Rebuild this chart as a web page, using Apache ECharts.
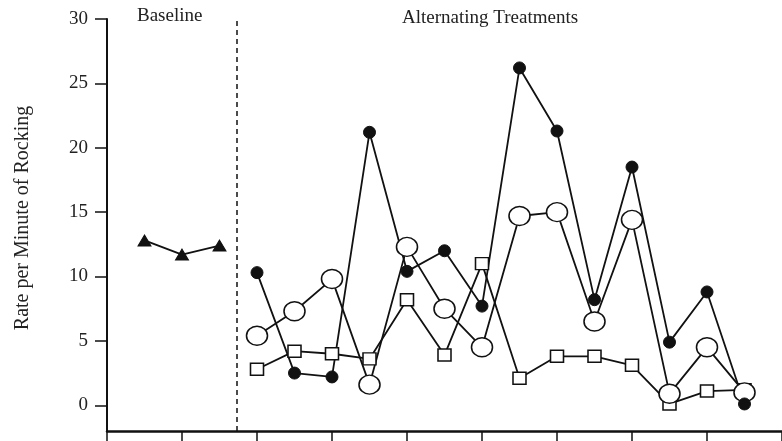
<!DOCTYPE html>
<html>
<head>
<meta charset="utf-8">
<script src="https://cdn.jsdelivr.net/npm/echarts@6/dist/echarts.min.js"></script>
<style>html,body{margin:0;padding:0;background:#fff;}#c{width:782px;height:441px;}</style>
</head>
<body>
<div id="c"></div>
<script>
var baselineSessions = [1, 2, 3];
var baselineValues = [12.8, 11.7, 12.4];
var treatmentSessions = [4, 5, 6, 7, 8, 9, 10, 11, 12, 13, 14, 15, 16, 17];
var filledCircleValues = [10.3, 2.5, 2.2, 21.2, 10.4, 12.0, 7.7, 26.2, 21.3, 8.2, 18.5, 4.9, 8.8, 0.1];
var openCircleValues = [5.4, 7.3, 9.8, 1.6, 12.3, 7.5, 4.5, 14.7, 15.0, 6.5, 14.4, 0.9, 4.5, 1.0];
var squareValues = [2.8, 4.2, 4.0, 3.6, 8.2, 3.9, 11.0, 2.1, 3.8, 3.8, 3.1, 0.1, 1.1, 1.2];
var yTickValues = [0, 5, 10, 15, 20, 25, 30];
var phaseChange = 3.45;
var phaseLabels = ['Baseline', 'Alternating Treatments'];
var yTitle = 'Rate per Minute of Rocking';

function pairs(xs, ys) { return xs.map(function (x, i) { return [x, ys[i]]; }); }

var font = 'Liberation Serif';
var chart = echarts.init(document.getElementById('c'));
var lineStyle = { color: '#111', width: 1.8 };

chart.setOption({
  animation: false,
  backgroundColor: '#fff',
  grid: { left: 107, right: 0, top: 19, bottom: 10 },
  xAxis: {
    type: 'value', min: 0, max: 18, interval: 2,
    axisLine: { show: true, onZero: false, lineStyle: { color: '#111', width: 2.5 } },
    axisTick: { show: true, inside: false, length: 12, lineStyle: { color: '#111', width: 1.5 } },
    axisLabel: { show: false },
    splitLine: { show: false }
  },
  yAxis: {
    type: 'value', min: -2, max: 30,
    name: yTitle, nameLocation: 'middle', nameGap: 74, nameRotate: 90,
    nameTextStyle: { fontFamily: font, fontSize: 20, color: '#222', padding: [0, 0, 0, 14] },
    axisLine: { show: true, onZero: false, lineStyle: { color: '#111', width: 2 } },
    axisTick: { show: true, inside: false, length: 12, customValues: yTickValues, lineStyle: { color: '#111', width: 1.5 } },
    axisLabel: { show: true, margin: 19, customValues: yTickValues, fontFamily: font, fontSize: 19, color: '#222' },
    splitLine: { show: false }
  },
  graphic: [
    { type: 'text', left: 137, top: 7, style: { text: phaseLabels[0], font: '19px "Liberation Serif"', fill: '#222' } },
    { type: 'text', left: 402, top: 9, style: { text: phaseLabels[1], font: '19px "Liberation Serif"', fill: '#222' } }
  ],
  series: [
    {
      type: 'line', data: pairs(baselineSessions, baselineValues),
      symbol: 'triangle', symbolSize: [13, 11], showAllSymbol: true,
      lineStyle: lineStyle, itemStyle: { color: '#111', borderColor: '#111', borderWidth: 1 },
      markLine: {
        silent: true, symbol: 'none', label: { show: false },
        lineStyle: { color: '#111', type: [5, 4], width: 1.5 },
        data: [{ xAxis: phaseChange }]
      }
    },
    {
      type: 'line', data: pairs(treatmentSessions, squareValues),
      symbol: 'rect', symbolSize: [13, 12], showAllSymbol: true,
      lineStyle: lineStyle, itemStyle: { color: '#fff', borderColor: '#111', borderWidth: 1.5 }
    },
    {
      type: 'line', data: pairs(treatmentSessions, openCircleValues),
      symbol: 'circle', symbolSize: [21, 19], showAllSymbol: true,
      lineStyle: lineStyle, itemStyle: { color: '#fff', borderColor: '#111', borderWidth: 1.5 }
    },
    {
      type: 'line', data: pairs(treatmentSessions, filledCircleValues),
      symbol: 'circle', symbolSize: 12, showAllSymbol: true,
      lineStyle: lineStyle, itemStyle: { color: '#111', borderColor: '#111', borderWidth: 1 }
    }
  ]
});
</script>
</body>
</html>
